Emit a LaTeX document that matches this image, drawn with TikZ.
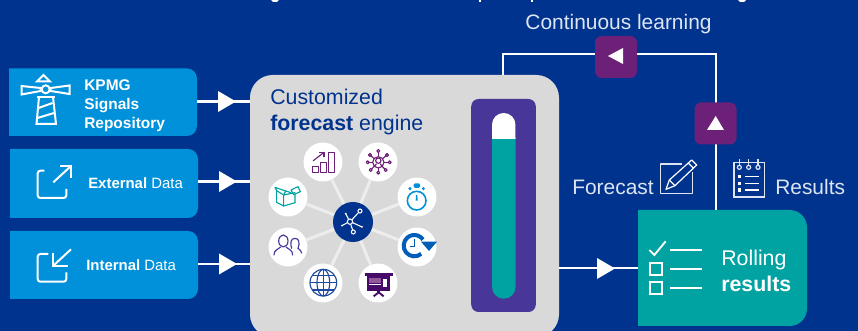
\documentclass[tikz,border=0pt]{standalone}
\usepackage{fontspec}
\setmainfont{Liberation Sans}
\usetikzlibrary{fit}
\definecolor{navy}{HTML}{00338D}
\definecolor{sky}{HTML}{0091DA}
\definecolor{panel}{HTML}{D9D9D9}
\definecolor{violet}{HTML}{483698}
\definecolor{plum}{HTML}{6D2077}
\definecolor{teal2}{HTML}{00A3A1}
\definecolor{spoke}{HTML}{EDEDED}
\definecolor{softw}{HTML}{DDE5F3}
\definecolor{cobalt}{HTML}{005EB8}
\definecolor{deep}{HTML}{470A68}
\newcommand\roundbox[6]{%
  \coordinate (#1a) at (#2,#3);\coordinate (#1b) at (#4,#5);
  \fill[#6] (#2,#3) [rounded corners=7.5pt] -- (#4,#3) -- (#4,#5) [sharp corners] -- (#2,#5) -- cycle;
  \node[fit=(#1a)(#1b),inner sep=0pt] (#1) {};}
\newcommand\headtri[2]{\fill[white] (#1,#2-10.5) -- (#1+18,#2) -- (#1,#2+10.5) -- cycle;}
\tikzset{
  link/.style={draw=white,line width=1.8pt},
  spokeline/.style={draw=spoke,line width=2.3pt},
  disc/.style={circle,fill=white,minimum size=29.2pt,inner sep=0pt},
  sq/.style={fill=plum,rounded corners=5pt,minimum size=31.5pt,inner sep=0pt},
  lab/.style={inner sep=0pt,text=softw,font=\fontsize{15.7}{19}\selectfont},
  boxtxt/.style={inner sep=0pt,text=white,font=\fontsize{11.6}{14.25}\selectfont,align=left},
  ic/.style={line width=.85pt,line join=round,line cap=round},
  zoomed/.style={shift={#1},x=.25pt,y=-.25pt},
}
\begin{document}
\begin{tikzpicture}[x=.75pt,y=-.75pt]
\useasboundingbox (0,0) rectangle (858,331);
\clip (0,0) rectangle (858,331);
\fill[navy] (0,0) rectangle (858,331);
% clipped descenders of the title
\fill[white] (271,0) -- (279,0) -- (277,2) -- (273,2) -- cycle;
\fill[white] (479,0) rectangle (481,2);
\fill[white] (531,0) rectangle (533,2);
\fill[white] (738,0) -- (746,0) -- (744,2) -- (740,2) -- cycle;

% panels
\node[fill=panel,rounded corners=17pt,minimum width=231.75pt,minimum height=196.5pt,inner sep=0pt] (engine) at (404.5,206) {};
\node[fill=violet,rounded corners=5.5pt,minimum width=48.4pt,minimum height=159.75pt,inner sep=0pt] (gauge) at (503.5,205.5) {};
\fill[teal2] (492,139) -- (515.5,139) -- (515.5,287) arc[start angle=0,end angle=-180,radius=8.8pt] -- cycle;
\fill[white] (492,139) -- (492,124.7) arc[start angle=180,end angle=0,radius=8.8pt] -- (515.5,139) -- cycle;

\roundbox{kpmg}{9}{68.5}{197}{136}{sky}
\roundbox{ext}{10}{149}{198}{218}{sky}
\roundbox{int}{10}{231}{198}{299}{sky}

% rolling box
\coordinate (rla) at (638,210);\coordinate (rlb) at (807,326);
\fill[teal2] (638,210) [rounded corners=13pt] -- (807,210) -- (807,326) [sharp corners] -- (638,326) -- cycle;
\node[fit=(rla)(rlb),inner sep=0pt] (rolling) {};

% connectors
\draw[link] (kpmg.east |- 0,101.5) -- (engine.west |- 0,101.5);
\draw[link] (ext.east |- 0,181.5) -- (engine.west |- 0,181.5);
\draw[link] (int.east |- 0,264) -- (engine.west |- 0,264);
\headtri{218}{101.5}
\headtri{219}{181.5}
\headtri{219}{264}
\coordinate (cR) at (715.7,54);
\coordinate (cL) at (503,54);
\draw[link] (engine.east |- 0,268) -- (rolling.west |- 0,268);
\headtri{597}{268.5}
\draw[link] (rolling.north -| cR) -- (cR) -- (cL) -- (cL |- engine.north);
\node[sq] (sqL) at (616,57) {};
\node[sq] (sqU) at (715.5,123.5) {};
\fill[white] (608,56) -- (623,48) -- (623,64) -- cycle;
\fill[white] (715.7,116) -- (724,130) -- (707,130) -- cycle;

% texts
\node[lab] (tcl) at (618.5,24) {Continuous learning};
\node[lab,anchor=base west] (tfc) at (572,195) {Forecast};
\node[lab,anchor=base west] (trs) at (775,195) {Results};
\node[inner sep=0pt,text=navy,anchor=base west,font=\fontsize{16}{19}\selectfont] (tcu) at (270,105) {Customized};
\node[inner sep=0pt,text=navy,anchor=base west,font=\fontsize{16}{19}\selectfont] (tfe) at (270,131) {\textbf{forecast} engine};
\node[boxtxt,anchor=west] (tk) at (84,106) {\textbf{KPMG}\\\textbf{Signals}\\\textbf{Repository}};
\node[boxtxt,anchor=base west,font=\fontsize{11.2}{14}\selectfont] (te) at (88,189) {\textbf{External} Data};
\node[boxtxt,anchor=base west,font=\fontsize{11.2}{14}\selectfont] (ti) at (86,271) {\textbf{Internal} Data};
\node[inner sep=0pt,text=white,anchor=base west,font=\fontsize{16}{19}\selectfont] (tr1) at (721,266) {Rolling};
\node[inner sep=0pt,text=white,anchor=base west,font=\fontsize{16}{19}\selectfont] (tr2) at (721,292) {\textbf{results}};

% hub and discs
\node[circle,fill=navy,minimum size=30pt,inner sep=0pt] (hub) at (353,222) {};
\node[disc] (d1) at (323,162) {};
\node[disc] (d2) at (378,162) {};
\node[disc] (d3) at (417,197) {};
\node[disc] (d4) at (417,247) {};
\node[disc] (d5) at (378,283) {};
\node[disc] (d6) at (323,283) {};
\node[disc] (d7) at (288,247) {};
\node[disc] (d8) at (288,197) {};
\foreach \d in {d1,d2,d3,d4,d5,d6,d7,d8}{\draw[spokeline] (hub) -- (\d);}

% lighthouse
\begin{scope}[white,line width=1.5pt,line join=miter]
\draw (37,81.5) -- (43.5,75) -- (50,81.5) -- cycle;
\draw (45.7,89.3) circle[radius=4];
\draw (21.5,86) -- (40.5,88) -- (40.5,91) -- (21.5,94.5) -- cycle;
\draw (50.7,88) -- (69.5,85.5) -- (69.5,94) -- (50.7,91) -- cycle;
\draw (37,97) -- (55,97);
\draw (39,97) -- (36.5,124) -- (56,124) -- (53,97);
\draw (38.5,108) -- (52.5,103);
\draw (37.5,118) -- (54,113);
\end{scope}

% external / internal icons
\begin{scope}[white,line width=1.5pt,rounded corners=2pt]
\draw (44.3,170.7) -- (37.7,170.7) -- (37.7,198) -- (66.3,198) -- (66.3,189);
\draw (48.3,254) -- (37.7,254) -- (37.7,281.7) -- (66.3,281.7) -- (66.3,272.3);
\end{scope}
\begin{scope}[white,line width=1.5pt]
\draw (53.3,182.3) -- (71,166);
\draw (60,166) -- (71,166) -- (71,178);
\draw (71,249.3) -- (53.3,265.7);
\draw (53.3,253.3) -- (53.3,265.7) -- (67.7,265.7);
\end{scope}

% bars icon
\begin{scope}[zoomed={(265,140)},plum,ic]
\draw (142,80) rectangle (160,97);
\draw (167,68) rectangle (185,97);
\draw (191,38) rectangle (208,97);
\draw (145,62) -- (177,37);
\draw (163,37) -- (177,37) -- (177,50);
\end{scope}

% open box icon
\begin{scope}[zoomed={(265,140)},teal2,ic]
\draw (35,152) -- (35,187) -- (56,198) -- (90,188) -- (90,163);
\draw (56,198) -- (56,165) -- (35,152);
\draw (56,165) -- (90,158);
\draw (35,152) -- (30,142) -- (62,153) -- (56,165);
\draw (62,153) -- (78,158);
\draw (78,150) -- (99,140) -- (106,155) -- (86,164) -- cycle;
\end{scope}

% network person icon
\begin{scope}[zoomed={(355,140)},plum,ic]
\foreach \p in {(70,33),(96,45),(104,67),(92,90),(70,98),(47,90),(38,67),(45,45)}{
  \draw (70,67) -- \p;
}
\fill[white] (70,67) circle[radius=17];
\draw (70,67) circle[radius=17];
\draw (70,62) circle[radius=8];
\draw (58,79) -- (64,72);
\draw (82,79) -- (76,72);
\foreach \p in {(70,33),(96,45),(104,67),(92,90),(70,98),(47,90),(38,67),(45,45)}{
  \filldraw[fill=white] \p circle[radius=4.5];
}
\end{scope}

% stopwatch
\begin{scope}[zoomed={(355,140)},sky]
\draw[line width=1.2pt] (185,182) circle[radius=28];
\fill[rounded corners=1pt] (176,130) rectangle (195,144);
\fill (165,146) circle[radius=5];
\fill (205,146) circle[radius=5];
\fill (183,165) -- (187,165) -- (188,182) -- (182,182) -- cycle;
\end{scope}

% clock with arrow
\begin{scope}[zoomed={(355,225)},cobalt]
\draw[line width=3pt] (178,62) ++(50:32) arc[start angle=50,end angle=325,radius=32];
\fill (198,50) -- (246,50) -- (222,78) -- cycle;
\draw[line width=1.2pt] (178,42) -- (178,65) -- (165,65);
\end{scope}

% presentation board
\begin{scope}[zoomed={(355,225)}]
\fill[deep] (30,145) rectangle (113,152);
\fill[deep] (36,152) rectangle (106,198);
\fill[plum!75!white] (43,160) rectangle (78,175);
\fill[white] (43,178) rectangle (78,181);
\fill[white] (85,162) rectangle (95,186);
\fill[deep] (66,197) rectangle (76,204);
\draw[deep,line width=1.4pt] (56,214) -- (71,202) -- (86,214);
\end{scope}

% globe
\begin{scope}[zoomed={(260,135)},color={rgb,255:red,30;green,73;blue,160},line width=.85pt]
\draw (190,443) circle[radius=40];
\draw (190,443) ellipse[x radius=19,y radius=40];
\draw (190,403) -- (190,483);
\draw (150,443) -- (230,443);
\draw (157,421) -- (223,421);
\draw (157,465) -- (223,465);
\end{scope}

% people
\begin{scope}[zoomed={(260,135)},violet,ic]
\draw (70,318) ellipse[x radius=14,y radius=18];
\draw (42,360) .. controls (42,343) and (55,345) .. (62,336);
\draw (78,336) .. controls (85,345) and (98,343) .. (98,360);
\draw (95,340) .. controls (90,325) and (92,310) .. (105,310) .. controls (118,310) and (120,325) .. (114,340);
\draw (114,340) .. controls (118,346) and (125,345) .. (125,354);
\end{scope}

% hub icon
\begin{scope}[zoomed={(260,135)},white,line width=.8pt]
\draw (270,260) circle[radius=8];
\draw (300,228) circle[radius=6];
\draw (280,291) circle[radius=6];
\draw (276,254) -- (296,232);
\draw (272,268) -- (278,285);
\draw (266,253) -- (257,236);
\draw (262,263) -- (246,272);
\draw (278,263) -- (306,276);
\fill (257,236) circle[radius=3];
\fill (246,272) circle[radius=3];
\fill (306,276) circle[radius=3];
\end{scope}

% forecast icon
\begin{scope}[zoomed={(650,150)},softw,line width=.9pt,line join=round]
\draw (95,42) -- (32,42) -- (32,131) -- (127,131) -- (127,65);
\fill[navy] (48,118) -- (58,90) -- (125,30) -- (140,45) -- (75,107) -- cycle;
\draw[white] (48,118) -- (58,90) -- (125,30) -- (140,45) -- (75,107) -- cycle;
\draw[white] (58,90) -- (75,107);
\draw[white] (115,39) -- (130,54);
\end{scope}

% results icon
\begin{scope}[zoomed={(650,150)},softw,line width=.9pt]
\draw (252,38) rectangle (344,141);
\foreach \x in {268,296,324}{
  \draw[fill=navy] (\x,52) circle[radius=6];
  \draw (\x,28) -- (\x,46);
}
\foreach \y in {80,100,120}{
  \fill[white] (263,\y-5) rectangle (274,\y+5);
  \draw[white] (285,\y) -- (327,\y);
}
\end{scope}

% checklist
\begin{scope}[zoomed={(430,165)},white,line width=1.4pt]
\draw (658,255) -- (673,270) -- (707,229);
\draw (720,254) -- (815,254);
\draw (720,311) -- (815,311);
\draw (720,368) -- (815,368);
\draw (660,295) rectangle (696,330);
\draw (660,352) rectangle (696,387);
\end{scope}
\end{tikzpicture}
\end{document}
